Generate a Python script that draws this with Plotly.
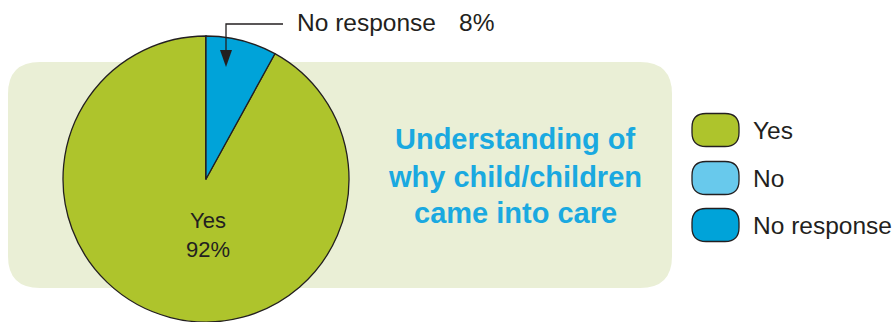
import plotly.graph_objects as go

# ---- data ----
labels = ["Yes", "No", "No response"]
values = [92, 0, 8]
colors = ["#AEC42C", "#68C9EC", "#00A3D9"]
title_lines = ["Understanding of", "why child/children", "came into care"]

W, H = 896, 322

def px(x):
    return x / W

def py(y):
    return 1 - y / H

fig = go.Figure()

# rotation so the "No response" slice sits just clockwise of 12 o'clock
rot = 360 * values[2] / sum(values)
fig.add_trace(go.Pie(
    labels=labels, values=values, sort=False, direction="clockwise",
    rotation=rot, textinfo="none", hoverinfo="label+percent",
    marker=dict(colors=colors, line=dict(color="#231F20", width=1.3)),
    domain=dict(x=[px(63), px(349)], y=[0, py(36)]),
    showlegend=False,
))

shapes = []
# background rounded panel
x0, x1, y0, y1, r = 8, 672, 62, 288, 32
path = (f"M{px(x0+r)},{py(y0)} L{px(x1-r)},{py(y0)} Q{px(x1)},{py(y0)} {px(x1)},{py(y0+r)} "
        f"L{px(x1)},{py(y1-r)} Q{px(x1)},{py(y1)} {px(x1-r)},{py(y1)} "
        f"L{px(x0+r)},{py(y1)} Q{px(x0)},{py(y1)} {px(x0)},{py(y1-r)} "
        f"L{px(x0)},{py(y0+r)} Q{px(x0)},{py(y0)} {px(x0+r)},{py(y0)} Z")
shapes.append(dict(type="path", xref="paper", yref="paper", path=path,
                   fillcolor="#EAEFD6", line=dict(width=0), layer="below"))

# callout line and arrowhead
shapes.append(dict(type="path", xref="paper", yref="paper",
                   path=f"M{px(283)},{py(24)} L{px(226)},{py(24)} L{px(226)},{py(52)}",
                   line=dict(color="#231F20", width=1.3), layer="above"))
shapes.append(dict(type="path", xref="paper", yref="paper",
                   path=f"M{px(220)},{py(50)} L{px(232)},{py(50)} L{px(226)},{py(67)} Z",
                   fillcolor="#231F20", line=dict(width=0), layer="above"))

# legend markers (rounded pills)
leg_y = [130, 178, 225]
lx0, lx1, hh, rr = 692, 739, 16.5, 14
for c, yc in zip(colors, leg_y):
    a, b = yc - hh, yc + hh
    p = (f"M{px(lx0+rr)},{py(a)} L{px(lx1-rr)},{py(a)} Q{px(lx1)},{py(a)} {px(lx1)},{py(a+rr)} "
         f"L{px(lx1)},{py(b-rr)} Q{px(lx1)},{py(b)} {px(lx1-rr)},{py(b)} "
         f"L{px(lx0+rr)},{py(b)} Q{px(lx0)},{py(b)} {px(lx0)},{py(b-rr)} "
         f"L{px(lx0)},{py(a+rr)} Q{px(lx0)},{py(a)} {px(lx0+rr)},{py(a)} Z")
    shapes.append(dict(type="path", xref="paper", yref="paper", path=p,
                       fillcolor=c, line=dict(color="#231F20", width=1.3), layer="above"))

ann = []
txtfont = dict(family="Liberation Sans, Arial, sans-serif", color="#231F20")
for lab, yc in zip(labels, leg_y):
    ann.append(dict(x=px(751), y=py(yc), xref="paper", yref="paper", text=lab,
                    showarrow=False, xanchor="left", yanchor="middle",
                    font=dict(size=24.5, **txtfont)))

# slice labels
ann.append(dict(x=px(208), y=py(235), xref="paper", yref="paper",
                text=f"{labels[0]}<br>{values[0]}%", showarrow=False,
                xanchor="center", yanchor="middle", font=dict(size=22, **txtfont)))
ann.append(dict(x=px(295), y=py(22), xref="paper", yref="paper",
                text=labels[2], showarrow=False, xanchor="left", yanchor="middle",
                font=dict(size=24.5, **txtfont)))
ann.append(dict(x=px(457), y=py(22), xref="paper", yref="paper",
                text=f"{values[2]}%", showarrow=False, xanchor="left", yanchor="middle",
                font=dict(size=24.5, **txtfont)))

# title block
for i, (t, yc) in enumerate(zip(title_lines, [139, 177, 213])):
    ann.append(dict(x=px(515), y=py(yc), xref="paper", yref="paper",
                    text=f"<b>{t}</b>", showarrow=False, xanchor="center", yanchor="middle",
                    font=dict(size=29, family="Liberation Sans, Arial, sans-serif",
                              color="#1AA9E0")))

fig.update_layout(
    width=W, height=H, margin=dict(l=0, r=0, t=0, b=0),
    paper_bgcolor="white", plot_bgcolor="white",
    shapes=shapes, annotations=ann, showlegend=False,
)

fig.write_html("out.html", config={"displayModeBar": False},
               post_script="document.body.style.margin='0';document.body.style.overflow='hidden';")
